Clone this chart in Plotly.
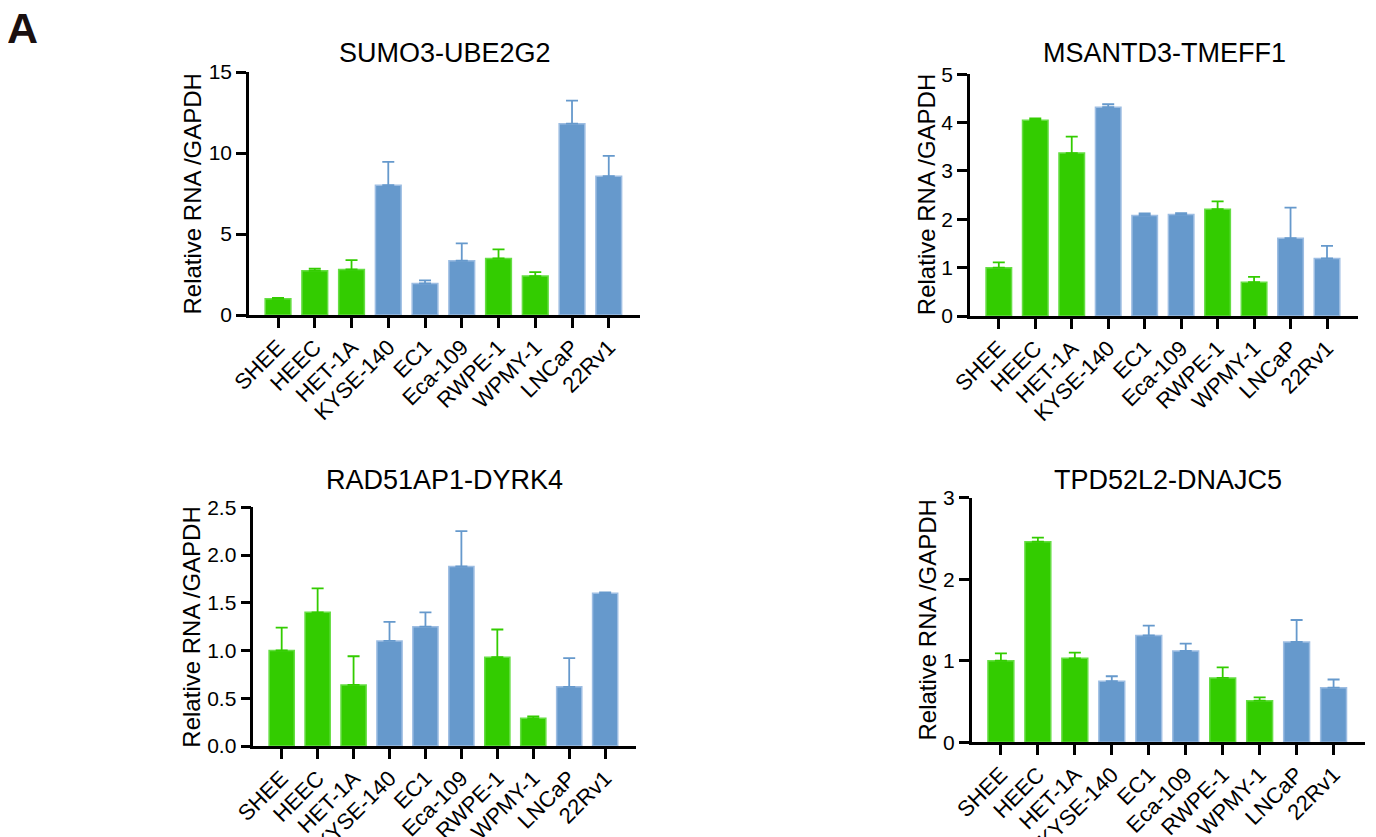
import plotly.graph_objects as go

W, H = 1376, 837
OFF = 8  # page body margin compensation (px)

categories = ["SHEE", "HEEC", "HET-1A", "KYSE-140", "EC1", "Eca-109",
              "RWPE-1", "WPMY-1", "LNCaP", "22Rv1"]
groups = ["normal", "normal", "normal", "cancer", "cancer", "cancer",
          "normal", "normal", "cancer", "cancer"]

titles = ["SUMO3-UBE2G2", "MSANTD3-TMEFF1", "RAD51AP1-DYRK4", "TPD52L2-DNAJC5"]

sumo3_mean = [1.0, 2.73, 2.81, 8.01, 1.95, 3.35, 3.49, 2.40, 11.81, 8.57]
sumo3_sd = [0.06, 0.13, 0.58, 1.44, 0.19, 1.07, 0.56, 0.25, 1.42, 1.25]

msantd3_mean = [1.0, 4.05, 3.37, 4.32, 2.08, 2.10, 2.21, 0.70, 1.61, 1.19]
msantd3_sd = [0.11, 0.04, 0.34, 0.06, 0.04, 0.03, 0.16, 0.11, 0.63, 0.26]

rad51_mean = [1.0, 1.40, 0.64, 1.10, 1.25, 1.88, 0.93, 0.29, 0.62, 1.60]
rad51_sd = [0.24, 0.25, 0.30, 0.20, 0.15, 0.37, 0.29, 0.02, 0.30, 0.01]

tpd52_mean = [1.0, 2.46, 1.03, 0.75, 1.31, 1.12, 0.79, 0.51, 1.23, 0.67]
tpd52_sd = [0.09, 0.05, 0.07, 0.06, 0.12, 0.09, 0.13, 0.04, 0.27, 0.10]

y_ranges = [[0, 15], [0, 5], [0, 2.5], [0, 3]]
y_dticks = [5, 1, 0.5, 1]
y_formats = ["", "", ".1f", ""]

means = [sumo3_mean, msantd3_mean, rad51_mean, tpd52_mean]
sds = [sumo3_sd, msantd3_sd, rad51_sd, tpd52_sd]

fill = {"normal": "#33CC00", "cancer": "#6699CC"}
edge = {"normal": "#66DD44", "cancer": "#9DBDE2"}

# plot areas in screen pixels: (x0, x1, ybottom, ytop)
boxes = [(249, 640, 315, 72), (970, 1358, 316, 74.3),
         (253.3, 635.7, 746, 507.3), (971.7, 1365, 742.3, 497.7)]
ytitle_x = [192, 926, 192, 926.5]
title_y = [53, 53, 479.5, 480]


def px(x):
    return (x - OFF) / W


def py(y):
    return 1 - (y - OFF) / H


FONT = "Liberation Sans, Arial, Helvetica, sans-serif"

fig = go.Figure()
annotations = []
for i in range(4):
    n = i + 1
    xa = "x" if n == 1 else f"x{n}"
    ya = "y" if n == 1 else f"y{n}"
    for grp in ["normal", "cancer"]:
        xs = [c for c, g in zip(categories, groups) if g == grp]
        ys = [m for m, g in zip(means[i], groups) if g == grp]
        es = [s for s, g in zip(sds[i], groups) if g == grp]
        idx = [categories.index(c) for c in xs]
        fig.add_trace(go.Bar(
            x=idx, y=ys, width=0.7,
            marker=dict(color=fill[grp], line=dict(color=edge[grp], width=1.5)),
            error_y=dict(type="data", array=es, symmetric=False, arrayminus=[0] * len(es),
                         color=fill[grp], thickness=1.8, width=6),
            xaxis=xa, yaxis=ya, showlegend=False))
    x0, x1, yb, yt = boxes[i]
    axis_common = dict(showline=True, linecolor="black", linewidth=2.5,
                       ticks="outside", ticklen=10, tickwidth=2.5, tickcolor="black",
                       showgrid=False, zeroline=False, automargin=False)
    fig.layout[f"xaxis{'' if n == 1 else n}"] = dict(
        domain=[px(x0), px(x1)], anchor=ya, range=[-0.79, 9.85],
        tickmode="array", tickvals=list(range(10)), ticktext=categories,
        tickangle=-45, ticklabelstandoff=-2,
        tickfont=dict(family=FONT, size=22, color="black"),
        **axis_common)
    fig.layout[f"yaxis{'' if n == 1 else n}"] = dict(
        domain=[py(yb), py(yt)], anchor=xa, range=y_ranges[i],
        dtick=y_dticks[i], tick0=0, tickformat=y_formats[i],
        tickfont=dict(family=FONT, size=21, color="black"), **axis_common)
    annotations.append(dict(text=titles[i], xref="paper", yref="paper",
                            x=px((x0 + x1) / 2), y=py(title_y[i]),
                            xanchor="center", yanchor="middle", showarrow=False,
                            font=dict(family=FONT, size=27, color="black")))
    annotations.append(dict(text="Relative RNA /GAPDH", xref="paper", yref="paper",
                            x=px(ytitle_x[i]), y=py((yb + yt) / 2),
                            xanchor="center", yanchor="middle", textangle=-90,
                            showarrow=False,
                            font=dict(family=FONT, size=24, color="black")))

annotations.append(dict(text="<b>A</b>", xref="paper", yref="paper",
                        x=px(5), y=py(28), xanchor="left", yanchor="middle",
                        showarrow=False,
                        font=dict(family=FONT, size=43, color="#1a1010")))

fig.update_layout(width=W, height=H,
                  margin=dict(l=0, r=0, t=0, b=0, pad=0, autoexpand=False),
                  plot_bgcolor="white", paper_bgcolor="white",
                  barmode="overlay", annotations=annotations)

fig.write_html("out.html")
